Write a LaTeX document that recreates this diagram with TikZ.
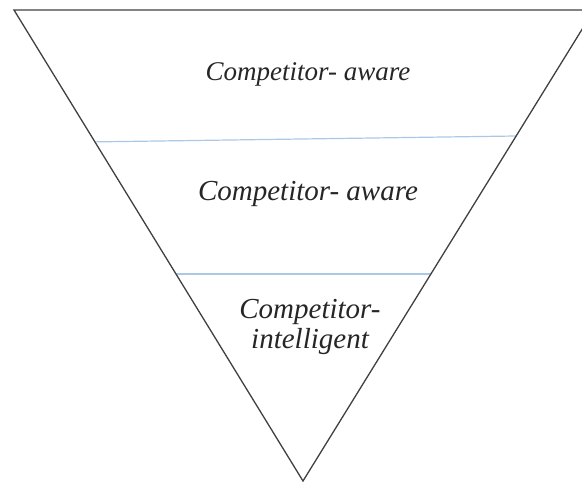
\documentclass[tikz,border=0pt]{standalone}
\usepackage{fontspec}
\setmainfont{Liberation Serif}
\usetikzlibrary{calc}

\begin{document}
\begin{tikzpicture}
  [
    x=1pt, y=-1pt,
    edge/.style  = {draw=black!75, line width=1.3pt},
    level/.style = {draw={rgb,255:red,170;green,200;blue,232}, line width=1.2pt},
    tag/.style   = {align=center, text=black!85, font=\itshape}
  ]
  \useasboundingbox (0,0) rectangle (582,485);
  \clip (0,0) rectangle (582,485);

  \coordinate (tl) at ( 14, 10);
  \coordinate (tr) at (594, 10);
  \coordinate (ap) at (303,481);

  \draw[level] ($(tl)!0.280!(ap)$)  -- ($(tr)!0.2675!(ap)$);
  \draw[level] ($(tl)!0.5605!(ap)$) -- ($(tr)!0.5605!(ap)$);
  \draw[edge, line join=miter] (tl) -- (tr) -- (ap) -- cycle;

  \node [tag, font=\itshape\fontsize{27}{30}\selectfont, anchor=base] at (308, 80)  (a) {Competitor- aware};
  \node [tag, font=\itshape\fontsize{29}{30}\selectfont, anchor=base] at (308,200) (b) {Competitor- aware};
  \node [tag, font=\itshape\fontsize{29}{30}\selectfont, anchor=north] at (310,296) (c) {Competitor-\\intelligent};
\end{tikzpicture}
\end{document}
